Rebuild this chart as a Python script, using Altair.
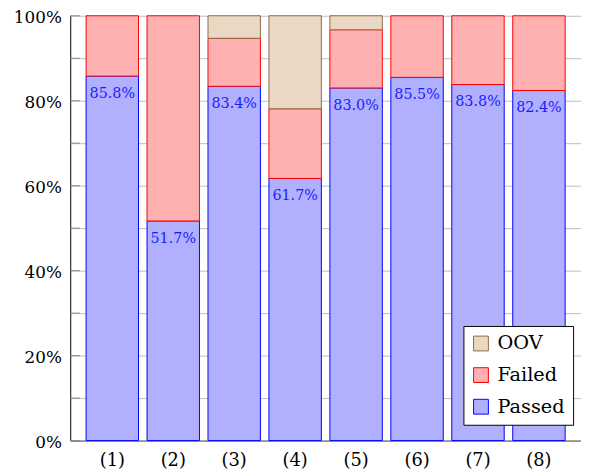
import altair as alt
import pandas as pd

categories = ["(1)", "(2)", "(3)", "(4)", "(5)", "(6)", "(7)", "(8)"]
passed = [85.8, 51.7, 83.4, 61.7, 83.0, 85.5, 83.8, 82.4]
failed = [14.2, 48.3, 11.3, 16.4, 13.7, 14.5, 16.2, 17.6]
oov = [0.0, 0.0, 5.3, 21.9, 3.3, 0.0, 0.0, 0.0]
series = ["OOV", "Failed", "Passed"]
fills = ["#ead8c4", "#ffb0b0", "#b0b0ff"]
strokes = ["#8b6b45", "#ff0000", "#0000ff"]
y_ticks = list(range(0, 101, 10))

rows = []
for i, c in enumerate(categories):
    for name, vals, o in (("Passed", passed, 0), ("Failed", failed, 1), ("OOV", oov, 2)):
        if vals[i] > 0:
            rows.append({"cat": c, "type": name, "value": vals[i], "ord": o})
df = pd.DataFrame(rows)
lab = pd.DataFrame({"cat": categories, "passed": passed,
                    "label": [f"{v:.1f}%" for v in passed]})
ticks = pd.DataFrame({"v": y_ticks})

FONT = "DejaVu Serif"

xenc = alt.X("cat:N", sort=categories, title=None,
             scale=alt.Scale(paddingInner=0.14, paddingOuter=0.26),
             axis=alt.Axis(labelAngle=0, ticks=False, tickSize=0, labelPadding=25,
                           labelBaseline="alphabetic", labelFontSize=18, labelFont=FONT,
                           labelColor="black", domainColor="#555555", grid=False))

bars = alt.Chart(df).mark_bar(strokeWidth=1).encode(
    x=xenc,
    y=alt.Y("value:Q", stack="zero", title=None,
            scale=alt.Scale(domain=[0, 100], nice=False),
            axis=alt.Axis(values=y_ticks, tickSize=0, labelPadding=9, labelOffset=2,
                          labelExpr="datum.value % 20 == 0 ? datum.value + '%' : ''",
                          labelFontSize=17, labelFont=FONT, labelColor="black",
                          domainColor="black", grid=True, gridColor="#bdbdbd")),
    fill=alt.Fill("type:N", scale=alt.Scale(domain=series, range=fills), title=None),
    stroke=alt.Stroke("type:N", scale=alt.Scale(domain=series, range=strokes), title=None),
    order=alt.Order("ord:Q", sort="ascending"),
)

text = alt.Chart(lab).mark_text(baseline="alphabetic", dy=22, font=FONT,
                                fontSize=14.5, color="#1a1aff").encode(
    x=alt.X("cat:N", sort=categories),
    y=alt.Y("passed:Q"),
    text="label:N",
)

tickmarks = alt.Chart(ticks).mark_rule(color="#8a8a8a", strokeWidth=1).encode(
    y=alt.Y("v:Q"),
    x=alt.value(0),
    x2=alt.value(10),
)

chart = alt.layer(bars, tickmarks, text).properties(
    width=517, height=430,
    padding={"left": 63, "top": 5, "right": 0, "bottom": 32},
    autosize=alt.AutoSizeParams(type="none"),
).configure_view(stroke=None).configure_legend(
    orient="none", legendX=398, legendY=314,
    fillColor="white", strokeColor="black", padding=8,
    symbolType="square", symbolSize=225, symbolStrokeWidth=1,
    labelFontSize=19.5, labelFont=FONT, labelColor="black",
    rowPadding=11, labelOffset=7, cornerRadius=0,
)

chart.save("out.html", embed_options={"renderer": "svg", "actions": False})
